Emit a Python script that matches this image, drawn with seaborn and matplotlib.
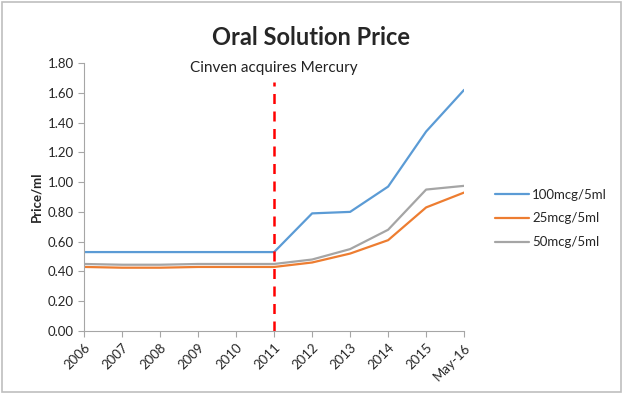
import pandas as pd
import matplotlib
matplotlib.use('Agg')
import matplotlib.pyplot as plt
import seaborn as sns

# Chart values
periods = ['2006', '2007', '2008', '2009', '2010', '2011', '2012', '2013', '2014', '2015', 'May-16']
price_100 = [0.53, 0.53, 0.53, 0.53, 0.53, 0.53, 0.79, 0.80, 0.97, 1.34, 1.62]
price_25 = [0.43, 0.425, 0.425, 0.43, 0.43, 0.43, 0.46, 0.52, 0.61, 0.83, 0.93]
price_50 = [0.45, 0.445, 0.445, 0.45, 0.45, 0.45, 0.48, 0.55, 0.68, 0.95, 0.975]
series_names = ['100mcg/5ml', '25mcg/5ml', '50mcg/5ml']
event_period = '2011'
event_label = 'Cinven acquires Mercury'

df = pd.DataFrame({'Period': periods * 3,
                   'Price': price_100 + price_25 + price_50,
                   'Strength': [n for n in series_names for _ in periods]})

sns.set_style("white")
plt.rcParams['font.family'] = ['Lato', 'DejaVu Sans']

fig = plt.figure(figsize=(6.23, 3.94), dpi=100)
ax = fig.add_axes([0.135, 0.16, 0.61, 0.68])

palette = {'100mcg/5ml': '#5b9bd5', '25mcg/5ml': '#ed7d31', '50mcg/5ml': '#a5a5a5'}
sns.lineplot(data=df, x='Period', y='Price', hue='Strength', palette=palette,
             linewidth=1.6, sort=False, ax=ax)

ev = periods.index(event_period)
ax.axvline(ev, ymin=0, ymax=0.93, color='#ff0000', linestyle=(0, (4, 3)), linewidth=1.8)
ax.text(ev, 1.77, event_label, ha='center', va='center', fontsize=11, color='#222222')

ax.set_xlim(0, len(periods) - 1)
ax.set_ylim(0, 1.8)
ax.set_yticks([i * 0.2 for i in range(10)])
ax.set_yticklabels([f'{i * 0.2:.2f}' for i in range(10)], fontsize=9.5)
ax.set_xticks(range(len(periods)))
ax.set_xticklabels(periods, rotation=45, ha='right', rotation_mode='anchor', fontsize=9.5)
ax.set_xlabel('')
ax.set_ylabel('Price/ml', fontsize=9.5, fontweight='bold')
ax.tick_params(axis='both', length=4, color='#a6a6a6', direction='out', bottom=True, left=True)

sns.despine(ax=ax)
for s in ['left', 'bottom']:
    ax.spines[s].set_color('#a6a6a6')

ax.legend(loc='center left', bbox_to_anchor=(1.05, 0.42), frameon=False, fontsize=9.5,
          handlelength=2.6, handletextpad=0.2, labelspacing=0.9)

fig.suptitle('Oral Solution Price', fontsize=17, fontweight='bold', y=0.935)

fig.patches.append(plt.Rectangle((0.003, 0.005), 0.994, 0.99, transform=fig.transFigure,
                                 fill=False, edgecolor='#bfbfbf', linewidth=1.2))

fig.savefig('out.png', dpi=100)
